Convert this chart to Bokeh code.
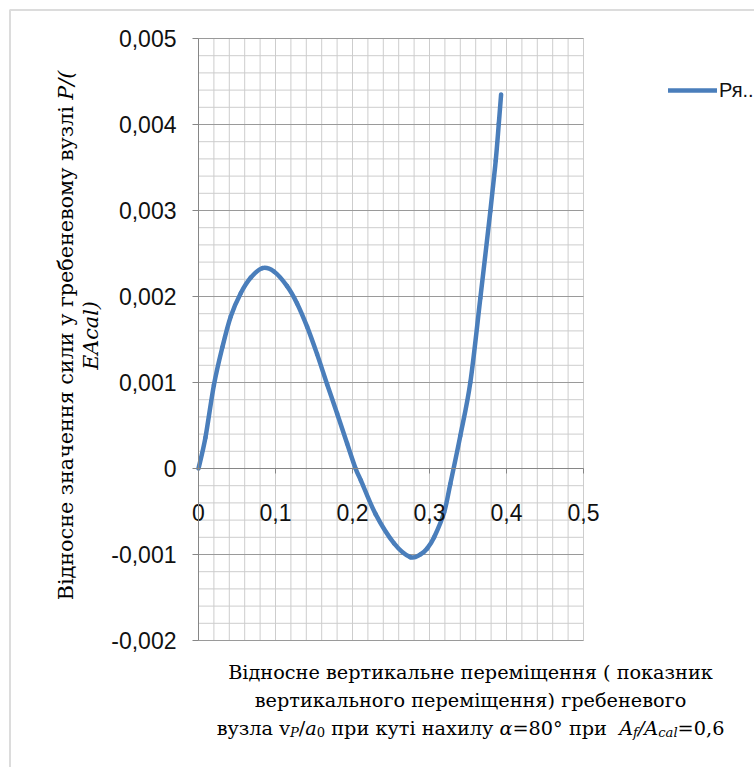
import glob
import math
from bokeh.plotting import figure
from bokeh.models import (FixedTicker, CustomJSTickFormatter, Label, Legend,
                          LegendItem, Range1d, BoxAnnotation)
from bokeh.embed import file_html
from bokeh.resources import INLINE

# ---------------- data ----------------
x_vals = [0.000, 0.009, 0.020, 0.031, 0.042, 0.055, 0.068, 0.083, 0.098, 0.115,
          0.128, 0.141, 0.154, 0.167, 0.180, 0.193, 0.204, 0.211, 0.230, 0.254,
          0.275, 0.288, 0.297, 0.306, 0.319, 0.327, 0.340, 0.353, 0.366, 0.379,
          0.386, 0.390, 0.393]
y_vals = [0.00000, 0.00036, 0.00097, 0.00141, 0.00177, 0.00204, 0.00222, 0.00233, 0.00229, 0.00212,
          0.00192, 0.00165, 0.00133, 0.00098, 0.00064, 0.00029, 0.00000, -0.00014, -0.00053, -0.00087,
          -0.00103, -0.00100, -0.00093, -0.00080, -0.00051, -0.00018, 0.00038, 0.00100, 0.00198, 0.00299,
          0.00358, 0.00401, 0.00435]
x_ticks = [0.0, 0.1, 0.2, 0.3, 0.4, 0.5]
y_ticks = [-0.002, -0.001, 0.0, 0.001, 0.002, 0.003, 0.004, 0.005]
series_name = "Ря.."

x_title_lines = [
    [("Відносне вертикальне переміщення ( показник", "normal", False)],
    [("вертикального переміщення) гребеневого", "normal", False)],
    [("вузла ", "normal", False), ("v", "normal", False), ("P", "italic", True),
     ("/", "normal", False), ("a", "italic", False), ("0", "normal", True),
     (" при куті нахилу ", "normal", False), ("α", "italic", False),
     ("=80° при  ", "normal", False), ("A", "italic", False), ("f", "italic", True),
     ("/", "italic", False), ("A", "italic", False), ("cal", "italic", True),
     ("=0,6", "normal", False)],
]
y_title_lines = [
    [("Відносне значення сили у гребеневому вузлі ", "normal", False), ("P/(", "italic", False)],
    [("EAcal)", "italic", False)],
]

# ---------------- layout (page pixels) ----------------
W, H = 754, 767
X0, X1, Y0, Y1 = 0.0, 0.5, -0.002, 0.005
PX0, PX1 = 198.0, 583.0      # where x = X0 / X1 sit
PY1, PY0 = 38.0, 640.0       # where y = Y1 / Y0 sit
SX = (PX1 - PX0) / (X1 - X0)
SY = (PY0 - PY1) / (Y1 - Y0)


def xd(px):
    return X0 + (px - PX0) / SX


def yd(py):
    return Y1 - (py - PY1) / SY


BLUE = "#4A7EBB"
GRID_MINOR = "#cdcdcd"
GRID_MAJOR = "#9a9a9a"
AXIS = "#868686"

p = figure(width=W, height=H, output_backend="svg", toolbar_location=None, title=None,
           x_range=Range1d(xd(0), xd(W)), y_range=Range1d(yd(H), yd(0)),
           min_border=0)
p.outline_line_color = None
p.background_fill_color = "white"
p.border_fill_color = "white"
p.grid.visible = False

# chart-area border (left and top edges visible, the rest runs off the page)
p.add_layout(BoxAnnotation(left=xd(9.5), right=xd(W + 40), top=yd(9.5), bottom=yd(H + 40),
                           fill_alpha=0, line_color="#8c8c8c", line_width=2))

# grid lines of the plot area
x_minor = [round(X0 + i * 0.02, 4) for i in range(26)]
y_minor = [round(Y0 + i * 0.0002, 6) for i in range(36)]
p.segment(x0=x_minor, x1=x_minor, y0=[Y0] * len(x_minor), y1=[Y1] * len(x_minor),
          line_color=GRID_MINOR, line_width=1)
p.segment(x0=[X0] * len(y_minor), x1=[X1] * len(y_minor), y0=y_minor, y1=y_minor,
          line_color=GRID_MINOR, line_width=1)
p.segment(x0=[X0] * len(y_ticks), x1=[X1] * len(y_ticks), y0=y_ticks, y1=y_ticks,
          line_color=GRID_MAJOR, line_width=1)

# axes crossing at the origin
p.xaxis.fixed_location = 0
p.yaxis.fixed_location = 0
p.xaxis.bounds = (X0, X1)
p.yaxis.bounds = (Y0, Y1)
p.xaxis.ticker = FixedTicker(ticks=x_ticks)
p.yaxis.ticker = FixedTicker(ticks=y_ticks)
p.xaxis.formatter = CustomJSTickFormatter(
    code="if (Math.abs(tick) < 1e-12) return '0'; return tick.toFixed(1).replace('.', ',');")
p.yaxis.formatter = CustomJSTickFormatter(
    code="if (Math.abs(tick) < 1e-12) return '0'; return tick.toFixed(3).replace('.', ',');")
for ax in (p.xaxis[0], p.yaxis[0]):
    ax.axis_line_color = AXIS
    ax.axis_line_width = 1
    ax.major_tick_line_color = AXIS
    ax.major_tick_in = 0
    ax.minor_tick_in = 0
    ax.minor_tick_out = 0
    ax.major_label_text_font = "Liberation Sans"
    ax.major_label_text_font_size = "23px"
    ax.major_label_text_color = "#111111"
p.yaxis.major_tick_out = 6
p.yaxis.major_label_standoff = 16
p.xaxis.major_tick_out = 5
p.xaxis.major_label_standoff = 30

# smoothed series line (Catmull-Rom as cubic Bezier pieces through the read points)
n = len(x_vals)
bx0, by0, bx1, by1, cx0, cy0, cx1, cy1 = ([] for _ in range(8))
for i in range(n - 1):
    xm, ym = (x_vals[i - 1], y_vals[i - 1]) if i > 0 else (x_vals[i], y_vals[i])
    xa, ya = x_vals[i], y_vals[i]
    xb, yb = x_vals[i + 1], y_vals[i + 1]
    xp, yp = (x_vals[i + 2], y_vals[i + 2]) if i + 2 < n else (xb, yb)
    bx0.append(xa); by0.append(ya); bx1.append(xb); by1.append(yb)
    cx0.append(xa + (xb - xm) / 6); cy0.append(ya + (yb - ym) / 6)
    cx1.append(xb - (xp - xa) / 6); cy1.append(yb - (yp - ya) / 6)
r = p.bezier(x0=bx0, y0=by0, x1=bx1, y1=by1, cx0=cx0, cy0=cy0, cx1=cx1, cy1=cy1,
             line_color=BLUE, line_width=4.5, line_cap="round")

# legend
legend = Legend(items=[LegendItem(label=series_name, renderers=[r])],
                location=(668, H - 102))
legend.glyph_width = 49
legend.glyph_height = 24
legend.label_height = 24
legend.label_standoff = 2
legend.padding = 0
legend.margin = 0
legend.spacing = 0
legend.border_line_color = None
legend.background_fill_alpha = 0
legend.label_text_font = "Liberation Sans"
legend.label_text_font_size = "20px"
legend.label_text_color = "#111111"
p.add_layout(legend)

# ---------------- titles (rich text pieces, serif) ----------------
SERIF = "DejaVu Serif"


def _find(name):
    for root in ("/usr/share/fonts", "/usr/local/share/fonts"):
        hits = glob.glob(root + "/**/" + name, recursive=True)
        if hits:
            return hits[0]
    return None


_font_files = {"normal": _find("DejaVuSerif.ttf"),
               "italic": _find("DejaVuSerif-Italic.ttf")}
_cache = {}


def text_width(s, style, size):
    try:
        from PIL import ImageFont
        key = (style, round(size * 4))
        if key not in _cache:
            _cache[key] = ImageFont.truetype(_font_files[style], size)
        return _cache[key].getlength(s)
    except Exception:
        return len(s) * 0.60 * size


SUB_RATIO = 0.68


def seg_size(base, sub):
    return base * SUB_RATIO if sub else base


def line_width(segs, base):
    return sum(text_width(t, st, seg_size(base, sb)) for t, st, sb in segs)


def fit_size(segs, target):
    return 24.0 * target / line_width(segs, 24.0)


def piece(x, y, t, st, sz, angle=0.0):
    p.add_layout(Label(x=x, y=y, text=t, text_font=SERIF, text_font_size=f"{sz:.2f}px",
                       text_font_style=st, text_color="#000000", angle=angle,
                       text_align="left", text_baseline="alphabetic"))


# x-axis title: centred lines, sized so the first line spans like the reference
XS = fit_size(x_title_lines[0], 485)
x_center = 470
x_baselines = [672, 700, 728]
for segs, base in zip(x_title_lines, x_baselines):
    cur = x_center - line_width(segs, XS) / 2
    for t, st, sb in segs:
        sz = seg_size(XS, sb)
        lead = len(t) - len(t.lstrip(" "))
        if t.strip():
            piece(xd(cur + text_width(" " * lead, st, sz)), yd(base + (0.2 * XS if sb else 0)),
                  t.strip(), st, sz)
        cur += text_width(t, st, sz)

# y-axis title: rotated lines, reading upward
YS = fit_size(y_title_lines[0], 530)
y_center = 335
y_baselines = [65, 90]
for segs, base in zip(y_title_lines, y_baselines):
    cur = y_center + line_width(segs, YS) / 2
    for t, st, sb in segs:
        sz = seg_size(YS, sb)
        lead = len(t) - len(t.lstrip(" "))
        if t.strip():
            piece(xd(base), yd(cur - text_width(" " * lead, st, sz)), t.strip(), st, sz,
                  angle=math.pi / 2)
        cur -= text_width(t, st, sz)

open("out.html", "w").write(file_html(p, INLINE))
